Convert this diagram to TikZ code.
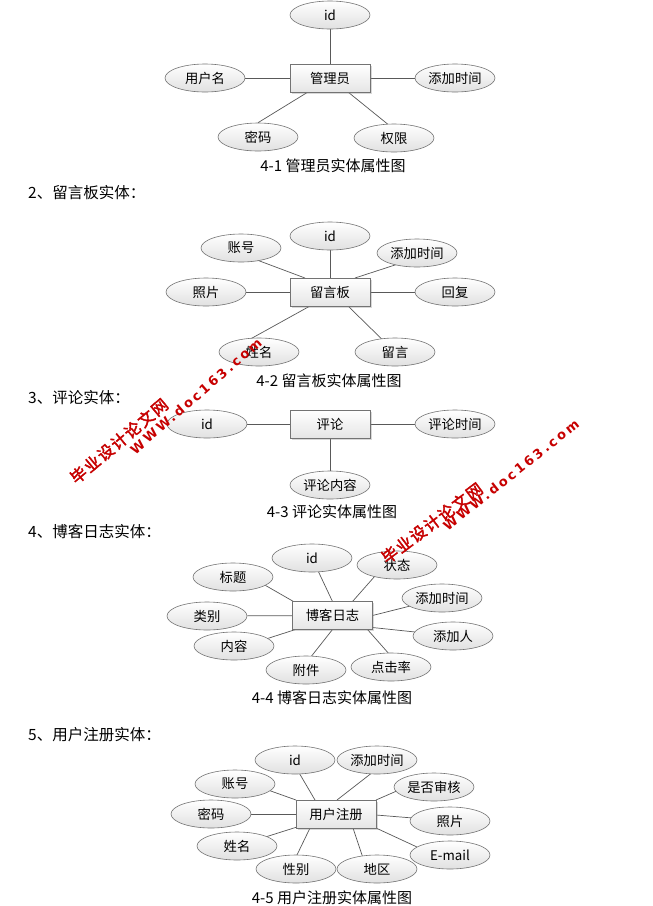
\documentclass[tikz,border=0pt]{standalone}
\usepackage{fontspec}
\newfontfamily\cjk{Noto Sans CJK SC}
\newfontfamily\wmcjk[FakeBold=2.5,LetterSpace=10]{Noto Sans CJK SC}
\newfontfamily\wmlat[LetterSpace=20]{DejaVu Sans Bold}
\usetikzlibrary{calc,shadows,backgrounds,shapes.geometric}
\begin{document}
\begin{tikzpicture}[x=1pt,y=-1pt,
  attr/.style={ellipse, draw=black!55, line width=0.6pt, top color=white, bottom color=black!12,
    minimum width=80pt, minimum height=28pt, inner sep=0pt, font=\cjk\fontsize{13.3}{15}\selectfont},
  ent/.style={rectangle, draw=black!55, line width=0.6pt, top color=white, bottom color=black!10,
    minimum width=80pt, minimum height=28pt, inner sep=0pt,
    drop shadow={shadow xshift=1.5pt, shadow yshift=-1.5pt, opacity=0.3},
    font=\cjk\fontsize{13.3}{15}\selectfont},
  conn/.style={draw=black!65, line width=0.7pt},
  headtxt/.style={anchor=west, inner sep=0pt, font=\cjk\fontsize{15.5}{17}\selectfont},
  captxt/.style={inner sep=0pt, font=\cjk\fontsize{15}{17}\selectfont},
  wmc/.style={inner sep=0pt, text=red!78!black, font=\wmcjk\fontsize{16}{18}\selectfont},
  wml/.style={inner sep=0pt, text=red!78!black, font=\wmlat\fontsize{13}{15}\selectfont}
]
\useasboundingbox (0,0) rectangle (653,906);

% ---------- 4-1 ----------
\node[ent]  (r1)  at (330,78)  {管理员};
\node[attr] (id1) at (330,15)  {id};
\node[attr] (un1) at (205,78)  {用户名};
\node[attr] (at1) at (455,78)  {添加时间};
\node[attr] (pw1) at (258,137) {密码};
\node[attr] (qx1) at (394,138) {权限};
\node[captxt]  (c1)  at (333,166) {4-1 管理员实体属性图};

% ---------- 4-2 ----------
\node[headtxt] (h2)  at (28,193)  {2、留言板实体：};
\node[ent]  (r2)  at (330,292) {留言板};
\node[attr] (id2) at (330,236) {id};
\node[attr] (zh2) at (241,248) {账号};
\node[attr] (at2) at (417,253) {添加时间};
\node[attr] (zp2) at (206,292) {照片};
\node[attr] (hf2) at (455,292) {回复};
\node[attr] (xm2) at (259,352) {姓名};
\node[attr] (ly2) at (395,352) {留言};
\node[captxt]  (c2)  at (329,381) {4-2 留言板实体属性图};

% ---------- 4-3 ----------
\node[headtxt] (h3)  at (28,398)  {3、评论实体：};
\node[ent]  (r3)  at (330,424) {评论};
\node[attr] (id3) at (207,424) {id};
\node[attr] (sj3) at (455,424) {评论时间};
\node[attr] (nr3) at (330,485) {评论内容};
\node[captxt]  (c3)  at (332,512) {4-3 评论实体属性图};

% ---------- 4-4 ----------
\node[headtxt] (h4)  at (28,532)  {4、博客日志实体：};
\node[ent]  (r4)  at (332.5,615.5) {博客日志};
\node[attr] (id4) at (312,558) {id};
\node[attr] (zt4) at (397,565) {状态};
\node[attr] (bt4) at (233,577) {标题};
\node[attr] (at4) at (442,598) {添加时间};
\node[attr] (lb4) at (207,616) {类别};
\node[attr] (tr4) at (453,636) {添加人};
\node[attr] (nr4) at (234,646) {内容};
\node[attr] (fj4) at (306,670) {附件};
\node[attr] (dj4) at (391,667) {点击率};
\node[captxt]  (c4)  at (332,698) {4-4 博客日志实体属性图};

% ---------- 4-5 ----------
\node[headtxt] (h5)  at (28,735)  {5、用户注册实体：};
\node[ent]  (r5)  at (336,814) {用户注册};
\node[attr] (id5) at (295,760) {id};
\node[attr] (at5) at (377,760) {添加时间};
\node[attr] (zh5) at (235,784) {账号};
\node[attr] (sh5) at (434,787) {是否审核};
\node[attr] (mm5) at (211,814) {密码};
\node[attr] (zp5) at (450,821) {照片};
\node[attr] (xm5) at (237,846) {姓名};
\node[attr] (em5) at (450,855) {E-mail};
\node[attr] (xb5) at (296,869) {性别};
\node[attr] (dq5) at (377,869) {地区};
\node[captxt]  (c5)  at (332,898) {4-5 用户注册实体属性图};

% ---------- connectors ----------
\begin{scope}[on background layer]
  \fill[white] (0,0) rectangle (653,906);
  % 4-1
  \draw[conn] (id1) -- (r1);
  \draw[conn] (un1) -- (r1);
  \draw[conn] (at1) -- (r1);
  \draw[conn] (pw1.north) -- ($(r1.center)+(-22,14)$);
  \draw[conn] ($(qx1.center)+(-4,-12)$) -- ($(r1.center)+(18,14)$);
  % 4-2
  \draw[conn] (id2) -- (r2);
  \draw[conn] (zp2) -- (r2);
  \draw[conn] (hf2) -- (r2);
  \draw[conn] ($(zh2.center)+(16,12)$) -- ($(r2.center)+(-25,-14)$);
  \draw[conn] ($(at2.center)+(-19,11)$) -- ($(r2.center)+(25,-14)$);
  \draw[conn] ($(xm2.center)+(-14,-10)$) -- ($(r2.center)+(-20,14)$);
  \draw[conn] (ly2.center) -- ($(r2.center)+(18,14)$);
  % 4-3
  \draw[conn] (id3) -- (r3);
  \draw[conn] (sj3) -- (r3);
  \draw[conn] (nr3) -- (r3);
  % 4-4
  \draw[conn] (lb4) -- (r4);
  \draw[conn] ($(bt4.center)+(30,7)$) -- ($(r4.center)+(-39,-14)$);
  \draw[conn] (id4.center) -- ($(r4.center)+(0,-14)$);
  \draw[conn] ($(zt4.center)+(-22,11)$) -- ($(r4.center)+(20,-14)$);
  \draw[conn] (at4.center) -- ($(r4.center)+(40,0)$);
  \draw[conn] (tr4.center) -- ($(r4.center)+(40,12)$);
  \draw[conn] ($(nr4.center)+(32,-7)$) -- ($(r4.center)+(-37,14)$);
  \draw[conn] ($(fj4.center)+(4,-12)$) -- ($(r4.center)+(0,14)$);
  \draw[conn] ($(dj4.center)+(-1,-12)$) -- ($(r4.center)+(35,14)$);
  % 4-5
  \draw[conn] (mm5) -- (r5);
  \draw[conn] ($(zh5.center)+(33,6)$) -- ($(r5.center)+(-40,-14)$);
  \draw[conn] ($(id5.center)+(3,11)$) -- ($(r5.center)+(-21,-14)$);
  \draw[conn] ($(at5.center)+(-4,12)$) -- ($(r5.center)+(1,-14)$);
  \draw[conn] ($(sh5.center)+(-35,3)$) -- ($(r5.center)+(40,-14)$);
  \draw[conn] (zp5.center) -- ($(r5.center)+(40,1)$);
  \draw[conn] (xm5.center) -- ($(r5.center)+(-39,13)$);
  \draw[conn] ($(em5.center)+(-33,-8)$) -- ($(r5.center)+(40,14)$);
  \draw[conn] ($(xb5.center)+(0,-12)$) -- ($(r5.center)+(-26,14)$);
  \draw[conn] ($(dq5.center)+(-14,-11)$) -- ($(r5.center)+(17,14)$);
\end{scope}

% ---------- watermarks ----------
\node[wmc, rotate=40] (w1a) at (119,441) {毕业设计论文网};
\node[wml, rotate=41] (w1b) at (196,396) {WWW.doc163.com};
\node[wmc, rotate=37] (w2a) at (432,523) {毕业设计论文网};
\node[wml, rotate=38.5] (w2b) at (511,475) {WWW.doc163.com};
\end{tikzpicture}
\end{document}
